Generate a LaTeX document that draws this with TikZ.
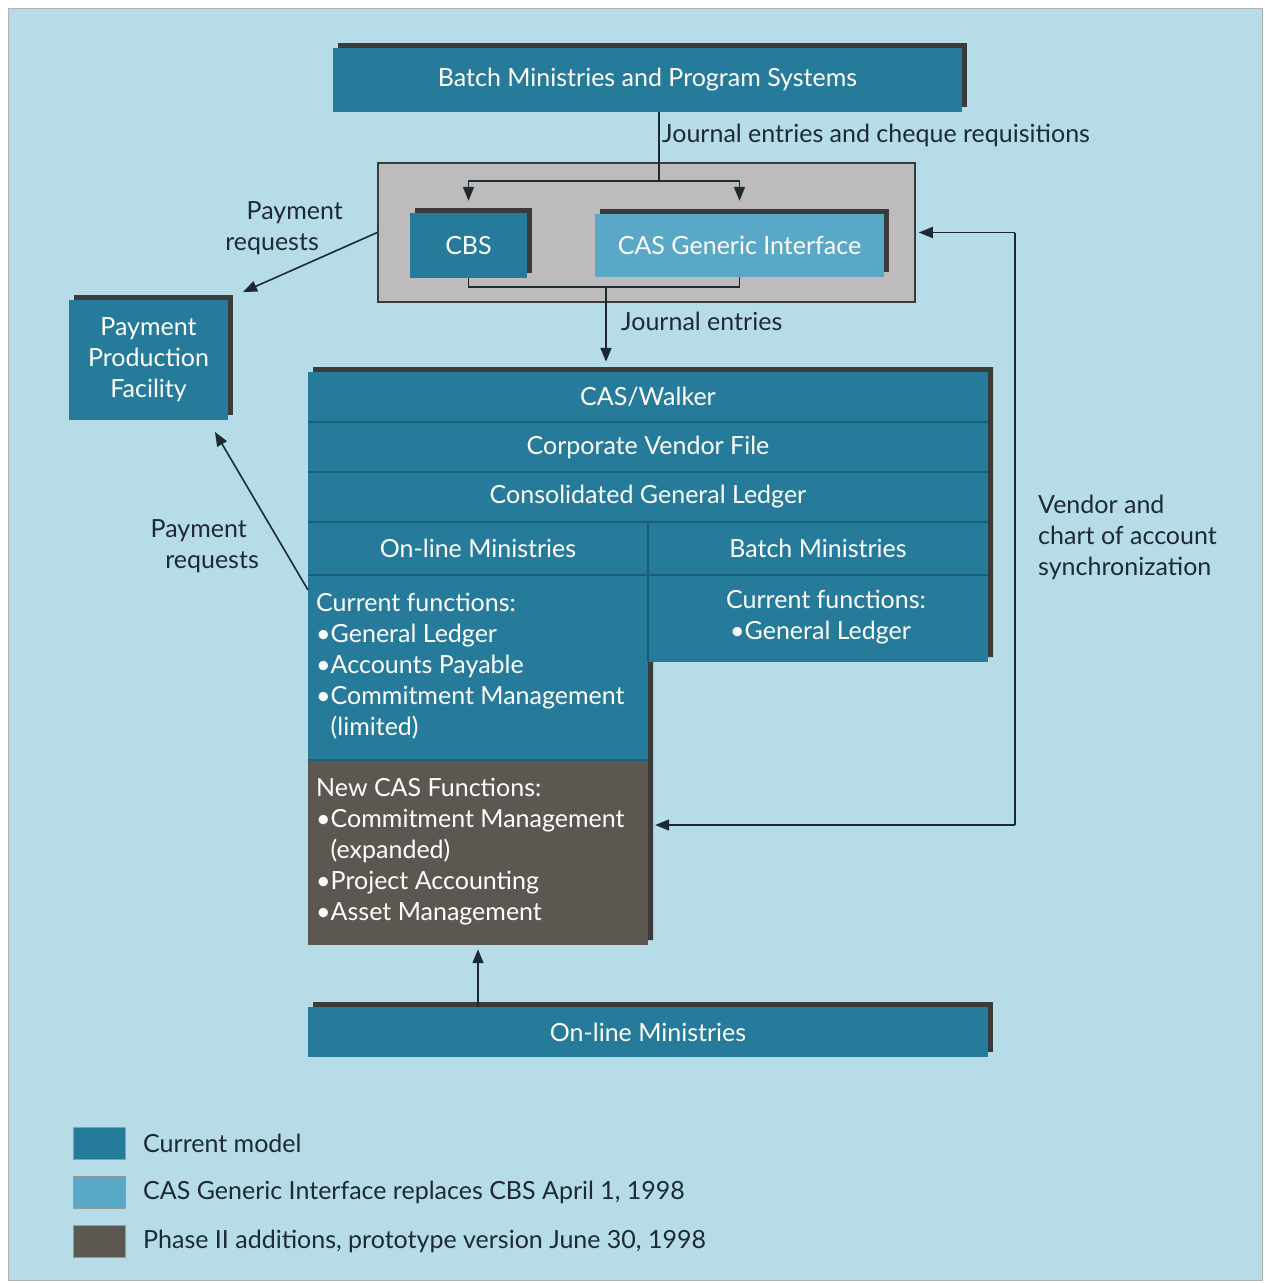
\documentclass[tikz,border=0pt]{standalone}
\usepackage{fontspec}
\setmainfont{Lato}
\usetikzlibrary{shadows,arrows.meta}
\definecolor{cbg}{HTML}{B6DCE8}
\definecolor{cteal}{HTML}{267B9A}
\definecolor{clight}{HTML}{5AA8C8}
\definecolor{cbrown}{HTML}{5D5751}
\definecolor{cgrey}{HTML}{BDBBBB}
\definecolor{cshadow}{HTML}{3B3B3B}
\definecolor{cline}{HTML}{1E2A33}
\definecolor{cdiv}{HTML}{1B5E77}
\newcommand\fa{\fontsize{25}{31}\selectfont}
\tikzset{
  box/.style={fill=cteal, text=white, font=\fa, inner sep=0pt, align=center},
  shad/.style={drop shadow={shadow xshift=5pt, shadow yshift=5pt, fill=cshadow, opacity=1}},
  lbl/.style={text=cline, font=\fa, inner sep=0pt},
  arr/.style={draw=cline, line width=1.6pt, -{Triangle[length=14pt,width=11pt]}},
  conn/.style={draw=cline, line width=1.6pt},
  divl/.style={draw=cdiv, line width=2pt},
  legsq/.style={inner sep=0pt, minimum width=52pt, minimum height=32pt, draw=black!40, line width=0.6pt}
}
\begin{document}
\begin{tikzpicture}[x=1pt,y=-1pt]
\useasboundingbox (0,0) rectangle (1265,1283);
\fill[white] (0,0) rectangle (1265,1283);
\fill[cbg] (8,8) rectangle (1262,1280);
\draw[black!30, line width=0.8pt] (8,8) rectangle (1262,1280);

% top box
\node[box, shad, minimum width=629pt, minimum height=64pt] (batch) at (647.5,80) {Batch Ministries and Program Systems};

% interface grey box
\node[fill=cgrey, draw=cshadow, line width=1.5pt, inner sep=0pt, minimum width=537pt, minimum height=139pt] (iface) at (646.5,232.5) {};
\node[box, shad, minimum width=117pt, minimum height=65pt] (cbs) at (468.5,245.5) {CBS};
\node[box, shad, fill=clight, minimum width=289pt, minimum height=63pt] (cgi) at (739.5,245.5) {CAS Generic Interface};

% payment production facility
\node[box, shad, minimum width=159pt, minimum height=120pt] (ppf) at (148.5,360) {Payment\\Production\\Facility};

% big block shadow
\fill[cshadow] (313,367) -- (993,367) -- (993,657) -- (653,657) -- (653,940) -- (313,940) -- cycle;
\node[box, minimum width=680pt, minimum height=50pt] (walker) at (648,397) {CAS/Walker};
\node[box, minimum width=680pt, minimum height=50pt] (cvf) at (648,447) {Corporate Vendor File};
\node[box, minimum width=680pt, minimum height=50pt] (cgl) at (648,497) {Consolidated General Ledger};
\node[box, minimum width=340pt, minimum height=53pt] (onl) at (478,548.5) {On-line Ministries};
\node[box, minimum width=340pt, minimum height=53pt] (bat) at (818,548.5) {Batch Ministries};
\node[box, minimum width=340pt, minimum height=185pt] (curl) at (478,667.5) {};
\node[box, minimum width=340pt, minimum height=87pt] (curr) at (818,618.5) {};
\node[box, fill=cbrown, minimum width=340pt, minimum height=185pt] (newc) at (478,852.5) {};
\draw[divl] (308,422) -- (988,422);
\draw[divl] (308,472) -- (988,472);
\draw[divl] (308,522) -- (988,522);
\draw[divl] (308,575) -- (988,575);
\draw[divl] (648,522) -- (648,662);
\draw[divl] (308,760) -- (648,760);

\node[box, fill=none, anchor=north west, align=left] (curltxt) at (316,593)
  {Current functions:\\
   •General Ledger\\
   •Accounts Payable\\
   •Commitment Management\\
   \phantom{•}(limited)};
\node[box, fill=none, anchor=north, align=left] (currtxt) at (826,590)
  {Current functions:\\
   \hspace*{4pt}•General Ledger};
\node[box, fill=none, anchor=north west, align=left] (newctxt) at (316,778)
  {New CAS Functions:\\
   •Commitment Management\\
   \phantom{•}(expanded)\\
   •Project Accounting\\
   •Asset Management};

% bottom box
\node[box, shad, minimum width=680pt, minimum height=50pt] (onl2) at (648,1032) {On-line Ministries};

% connectors top
\coordinate (j1) at (659,181);
\draw[conn] (batch.south -| j1) -- (j1);
\draw[arr, shorten >=12pt] (j1) -| (cbs.north);
\draw[arr, shorten >=13pt] (j1) -| (cgi.north);
\coordinate (j2) at (606,287);
\draw[conn] (cbs.south) |- (j2);
\draw[conn] (cgi.south) |- (j2);
\draw[arr, shorten >=10pt] (j2) -- (j2 |- walker.north);
\node[lbl, anchor=west] (jecr) at (662,135) {Journal entries and cheque requisitions};
\node[lbl, anchor=west] (je) at (621,321) {Journal entries};

% payment requests
\coordinate (pp1) at (243,292);
\draw[arr] (iface.west) -- (pp1);
\node[lbl, align=right, anchor=east] (pr1) at (343,228) {Payment\\requests\hspace*{24pt}};
\coordinate (pp2) at (215,432);
\coordinate (cw1) at (308,590);
\draw[arr] (cw1) -- (pp2);
\node[lbl, align=right, anchor=east] (pr2) at (259,546) {Payment\hspace*{12pt}\\requests};

% vendor sync
\coordinate (v1) at (1015,825);
\coordinate (v2) at (1015,232.5);
\draw[arr, shorten >=3pt] (v2) -- (iface.east);
\draw[conn] (v2) -- (v1);
\draw[arr, shorten >=7pt] (v1) -- (newc.east |- v1);
\node[lbl, anchor=north west, align=left] (vend) at (1038,495) {Vendor and\\chart of account\\synchronization};

% online ministries up
\draw[arr, shorten >=4pt] (newc.south |- onl2.north) -- (newc.south);

% legend
\node[legsq, fill=cteal] (lg1) at (99,1143) {};
\node[legsq, fill=clight] (lg2) at (99,1192) {};
\node[legsq, fill=cbrown] (lg3) at (99,1241) {};
\node[lbl, anchor=west] (lt1) at (143,1143) {Current model};
\node[lbl, anchor=west] (lt2) at (143,1192) {CAS Generic Interface replaces CBS April 1, 1998};
\node[lbl, anchor=west] (lt3) at (143,1241) {Phase II additions, prototype version June 30, 1998};
\end{tikzpicture}
\end{document}
